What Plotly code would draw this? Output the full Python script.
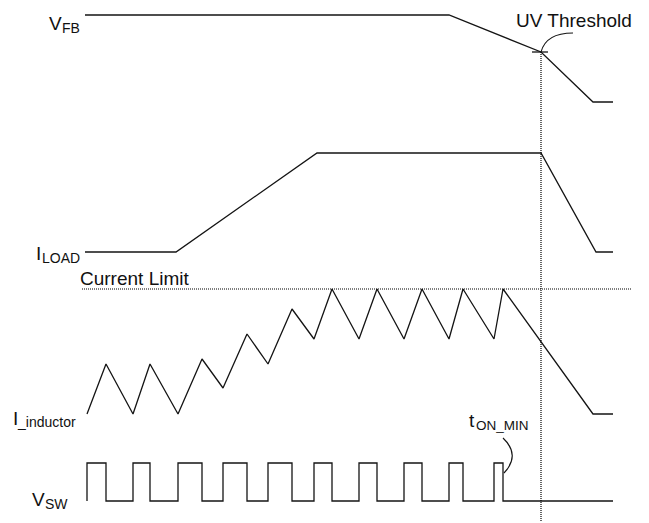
import plotly.graph_objects as go

# ---- data (diagram units: time on x, vertical position on y) ----
vfb_t = [85, 449, 541, 593, 613]
vfb_y = [15, 15, 52, 102, 102]

iload_t = [85, 176, 317, 541, 596, 613]
iload_y = [252, 252, 153, 153, 252, 252]

ind_t = [87, 106, 133, 150, 178, 202, 223, 247, 268, 292, 314, 332,
         359, 377, 404, 422, 449, 463, 494, 503, 593, 613]
ind_y = [414, 364, 414, 364, 414, 359, 388, 334, 364, 309, 339, 289,
         339, 289, 339, 289, 339, 289, 339, 289, 414, 414]

sw_rise = [87, 133, 178, 223, 268, 314, 359, 404, 449, 494]
sw_fall = [106, 150, 202, 247, 292, 332, 377, 422, 463, 503]
sw_hi, sw_lo, sw_end = 463, 501, 613

current_limit = 289
uv_time = 541
uv_level = 52

# build V_SW waveform from edges
sw_t, sw_y = [], []
for r, f in zip(sw_rise, sw_fall):
    sw_t += [r, r, f, f]
    sw_y += [sw_lo, sw_hi, sw_hi, sw_lo]
sw_t.append(sw_end)
sw_y.append(sw_lo)

LINE = dict(color="#141414", width=1.3)
FONT = "Liberation Sans, Arial, sans-serif"

fig = go.Figure()
for t, y in [(vfb_t, vfb_y), (iload_t, iload_y), (ind_t, ind_y), (sw_t, sw_y)]:
    fig.add_trace(go.Scatter(x=t, y=y, mode="lines", line=LINE,
                             hoverinfo="skip", showlegend=False))

# dotted reference lines
fig.add_shape(type="line", x0=82, x1=632, y0=current_limit, y1=current_limit,
              line=dict(color="#000", width=1.2, dash="1px,1px"))
fig.add_shape(type="line", x0=uv_time, x1=uv_time, y0=uv_level, y1=521,
              line=dict(color="#000", width=1.2, dash="1px,1px"))
# UV tick and callout curves
fig.add_shape(type="line", x0=532, x1=548, y0=uv_level, y1=uv_level, line=LINE)
fig.add_shape(type="path", path="M 541 52 Q 546 33 573 33", line=dict(color="#141414", width=1.1))
fig.add_shape(type="path", path="M 503 438 Q 521 455 504 473", line=dict(color="#141414", width=1.1))


def label(x, y, text, size):
    fig.add_annotation(x=x, y=y, text=text, showarrow=False, xanchor="left",
                       yanchor="middle", borderpad=0, borderwidth=0,
                       font=dict(family=FONT, size=size, color="#111"))


label(49, 23.4, "V", 19)
label(62, 28, "FB", 14)
label(36, 253.4, "I", 19)
label(42, 258, "LOAD", 14)
label(80, 278.5, "Current Limit", 19)
label(13, 418.4, "I", 19)
label(17, 421.6, "_inductor", 14)
label(32, 499, "V", 19)
label(45, 503.5, "SW", 14)
label(516, 20.4, "UV Threshold", 19)
label(469, 420.4, "t", 19)
label(476, 425.6, "ON_MIN", 13.5)

fig.update_layout(
    width=649, height=523,
    margin=dict(l=0, r=0, t=0, b=0),
    paper_bgcolor="white", plot_bgcolor="white",
    xaxis=dict(range=[0, 649], visible=False, fixedrange=True),
    yaxis=dict(range=[523, 0], visible=False, fixedrange=True),
)

fig.write_html("out.html", config={"displayModeBar": False},
               post_script="document.body.style.margin='0';document.body.style.overflow='hidden';")
